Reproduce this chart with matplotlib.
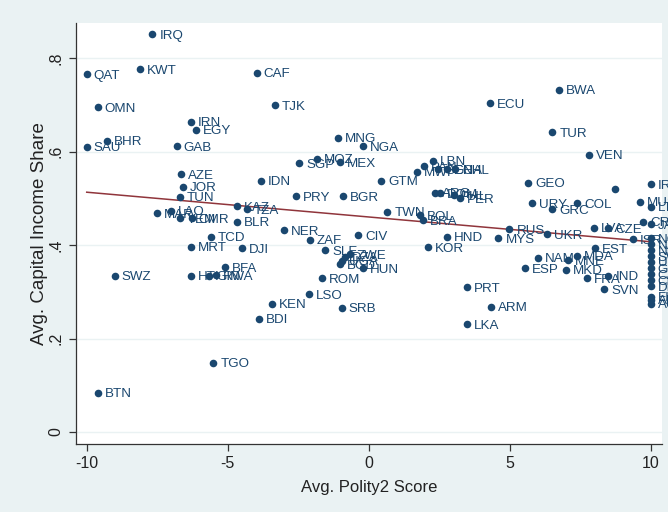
import matplotlib
matplotlib.use("Agg")
import matplotlib.pyplot as plt
import numpy as np

# Country averages: Polity2 score vs. capital income share
countries = [
    "IRQ", "QAT", "KWT", "CAF", "OMN", "TJK", "IRN", "EGY", "BHR", "SAU",
    "GAB", "AZE", "JOR", "TUN", "IDN", "PRY", "KAZ", "TZA", "MAR", "LAO",
    "YEM", "CMR", "BLR", "NER", "TCD", "MRT", "DJI", "BFA", "SWZ", "HTI",
    "GIN", "RWA", "KEN", "BDI", "TGO", "BTN", "SRB", "MNG", "NGA", "MOZ",
    "MEX", "SGP", "LBN", "MWI", "PAN", "SEN", "GHA", "CHL", "GTM", "ECU",
    "BWA", "TUR", "VEN", "ARG", "DOM", "PHL", "PER", "BGR", "TWN", "BOL",
    "BRA", "GEO", "URY", "GRC", "COL", "", "IRL", "MUS", "LTU", "CRI",
    "JAM", "LVA", "CZE", "ISR", "RUS", "MYS", "UKR", "HND", "KOR", "CIV",
    "ZAF", "SLE", "DZA", "ZWE", "BGD", "UGA", "HUN", "ROM", "LSO", "NAM",
    "MNE", "MDA", "EST", "ESP", "MKD", "FRA", "IND", "SVN", "PRT", "ARM",
    "LKA", "NOR", "NZL", "NLD", "SWE", "USA", "GBR", "CAN", "CHE", "DEU",
    "FIN", "AUS", "AUT",
]
polity2 = [
    -7.67, -10.0, -8.11, -3.97, -9.61, -3.32, -6.30, -6.12, -9.29, -10.0,
    -6.81, -6.67, -6.60, -6.69, -3.82, -2.58, -4.66, -4.33, -7.52, -7.01,
    -6.69, -6.28, -4.66, -3.00, -5.60, -6.31, -4.50, -5.10, -9.00, -6.31,
    -5.66, -5.41, -3.44, -3.89, -5.51, -9.61, -0.96, -1.10, -0.21, -1.84,
    -1.02, -2.47, 2.27, 1.70, 1.97, 2.47, 2.77, 3.06, 0.44, 4.30,
    6.76, 6.51, 7.80, 2.35, 2.53, 3.02, 3.24, -0.90, 0.66, 1.82,
    1.91, 5.66, 5.80, 6.51, 7.40, 8.75, 10.0, 9.62, 10.0, 9.74,
    10.0, 7.99, 8.50, 9.38, 4.99, 4.60, 6.31, 2.79, 2.09, -0.37,
    -2.08, -1.55, -0.84, -0.66, -1.02, -0.96, -0.21, -1.67, -2.11, 6.01,
    7.08, 7.38, 8.02, 5.54, 7.00, 7.75, 8.50, 8.35, 3.48, 4.34,
    3.48, 10.0, 10.0, 10.0, 10.0, 10.0, 10.0, 10.0, 10.0, 10.0,
    10.0, 10.0, 10.0,
]
capital_share = [
    0.851, 0.765, 0.776, 0.769, 0.695, 0.699, 0.664, 0.647, 0.623, 0.610,
    0.612, 0.551, 0.525, 0.503, 0.538, 0.505, 0.483, 0.476, 0.468, 0.473,
    0.457, 0.457, 0.450, 0.432, 0.418, 0.396, 0.393, 0.353, 0.334, 0.334,
    0.334, 0.336, 0.274, 0.242, 0.148, 0.084, 0.266, 0.630, 0.612, 0.585,
    0.577, 0.575, 0.580, 0.557, 0.569, 0.562, 0.562, 0.562, 0.538, 0.703,
    0.732, 0.641, 0.593, 0.512, 0.511, 0.507, 0.500, 0.505, 0.471, 0.464,
    0.453, 0.533, 0.489, 0.476, 0.490, 0.519, 0.530, 0.493, 0.482, 0.450,
    0.444, 0.437, 0.436, 0.412, 0.434, 0.414, 0.423, 0.418, 0.395, 0.421,
    0.411, 0.389, 0.375, 0.380, 0.359, 0.366, 0.351, 0.329, 0.295, 0.373,
    0.368, 0.377, 0.393, 0.351, 0.347, 0.329, 0.334, 0.305, 0.310, 0.268,
    0.231, 0.415, 0.402, 0.389, 0.376, 0.364, 0.351, 0.338, 0.325, 0.312,
    0.289, 0.274, 0.283,
]

# Linear fit line end points
fit_x = [-10, 10]
fit_y = [0.513, 0.407]

x_ticks = [-10, -5, 0, 5, 10]
x_ticklabels = ["-10", "-5", "0", "5", "10"]
y_ticks = [0, 0.2, 0.4, 0.6, 0.8]
y_ticklabels = ["0", ".2", ".4", ".6", ".8"]

navy = "#1A476F"
maroon = "#90353B"
graph_bg = "#EAF2F3"

plt.rcParams["font.family"] = ["Liberation Sans", "DejaVu Sans"]

fig = plt.figure(figsize=(6.68, 5.12), dpi=100, facecolor=graph_bg)
ax = fig.add_axes([76 / 668, 68 / 512, (662 - 76) / 668, (489 - 68) / 512])
ax.set_facecolor("white")

ax.set_xlim(-10.38, 10.40)
ax.set_ylim(-0.0257, 0.875)

for yt in y_ticks:
    ax.axhline(yt, color=graph_bg, lw=1.0, zorder=0)

ax.scatter(polity2, capital_share, s=30, color=navy, zorder=3, linewidths=0)
for name, x, y in zip(countries, polity2, capital_share):
    if name:
        ax.annotate(name, (x, y), xytext=(5, -3.3), textcoords="offset points",
                    va="baseline", ha="left", fontsize=9.6, color=navy,
                    annotation_clip=False, clip_on=False, zorder=4)

ax.plot(fit_x, fit_y, color=maroon, lw=1.1, zorder=2)

for side in ("top", "right"):
    ax.spines[side].set_visible(False)
for side in ("left", "bottom"):
    ax.spines[side].set_color("#333333")
    ax.spines[side].set_linewidth(0.9)

ax.set_xticks(x_ticks)
ax.set_xticklabels(x_ticklabels)
ax.set_yticks(y_ticks)
ax.set_yticklabels(y_ticklabels, rotation=90, va="center")
ax.tick_params(axis="both", direction="out", length=5, width=0.9,
               color="#333333", labelsize=11.5, labelcolor="#222222", pad=4)

ax.set_xlabel("Avg. Polity2 Score", fontsize=12, color="#222222", labelpad=6)
ax.set_ylabel("Avg. Capital Income Share", fontsize=13.5, color="#222222")
ax.yaxis.set_label_coords(-0.047, 0.5)

fig.savefig("out.png", dpi=100, facecolor=graph_bg)
